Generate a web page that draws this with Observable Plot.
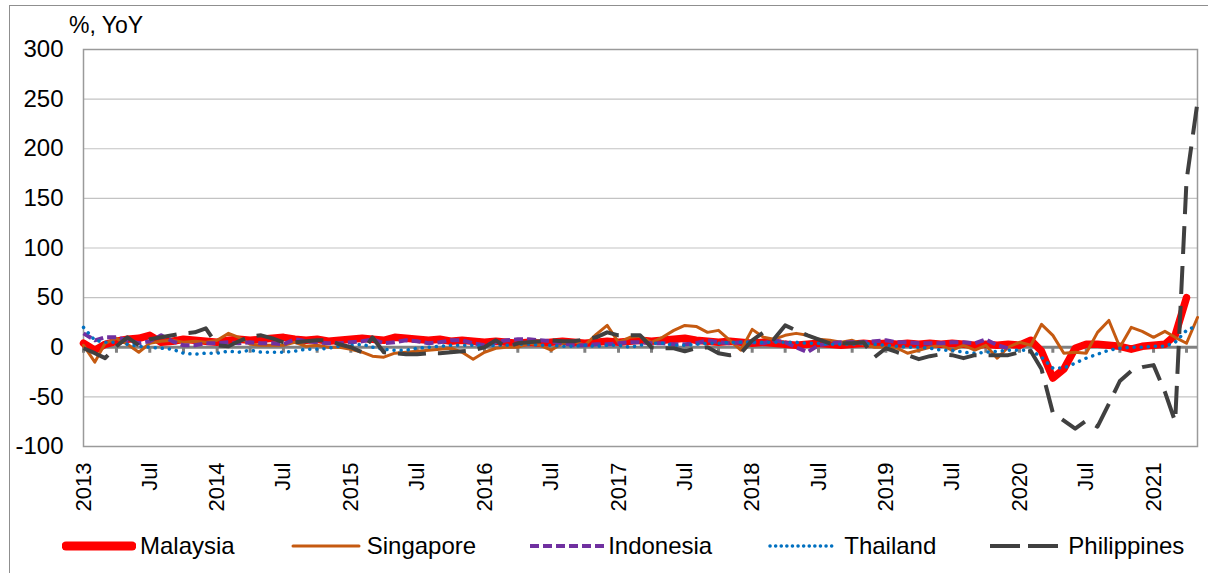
<!DOCTYPE html>
<html>
<head>
<meta charset="utf-8">
<script src="https://cdn.jsdelivr.net/npm/d3@7"></script>
<script src="https://cdn.jsdelivr.net/npm/@observablehq/plot@0.6"></script>
<style>
  html, body { margin: 0; padding: 0; background: #fff; }
  body { font-family: "Liberation Sans", Arial, sans-serif; color: #000; }
  #wrap { position: relative; width: 1208px; height: 573px; overflow: hidden; }
  #border { position: absolute; left: 9px; top: 5px; width: 1400px; height: 800px;
            border-left: 1.5px solid #8f8f8f; border-top: 1.5px solid #8f8f8f; pointer-events: none; }
  #title { height: 36px; box-sizing: border-box; padding-top: 13.5px; padding-left: 69px;
           font-size: 23px; line-height: 23px; white-space: nowrap; }
  #chart svg { display: block; }
  #legend { position: relative; top: -7px; height: 43px; box-sizing: border-box; padding-top: 3px; padding-left: 62px;
            display: flex; align-items: center; font-size: 24px; line-height: 24px; }
  .item { display: flex; align-items: center; margin-right: 54px; }
  .item svg { display: block; margin-right: 4px; }
</style>
</head>
<body>
<div id="wrap">
  <div id="border"></div>
  <div id="title">%, YoY</div>
  <div id="chart"></div>
  <div id="legend"></div>
</div>
<script>
// Monthly observations, Jan 2013 onward
const malaysia = [
  4, -3, 3, 6, 8, 9, 12, 5, 6, 8, 7, 6,
  5, 7, 8, 7, 8, 9, 10, 8, 7, 8, 6, 7,
  8, 9, 8, 7, 10, 9, 8, 7, 8, 6, 7, 6,
  5, 6, 5, 4, 5, 4, 5, 6, 5, 4, 5, 6,
  5, 6, 7, 6, 7, 8, 9, 7, 6, 5, 6, 5,
  4, 5, 4, 3, 2, 3, 4, 3, 2, 3, 4, 3,
  4, 3, 4, 3, 4, 3, 4, 3, 2, 3, 2, 3,
  2, 7, -4, -31, -22, -1, 3, 3, 2, 1, -2, 1,
  2, 3, 12, 50
];
const singapore = [
  2, -15, 4, 9, 3, -5, 4, 6, 7, 5, 6, 5,
  7, 14, 10, 3, 2, 2, 2, 5, 1, 2, 0, 0,
  -2, -5, -9, -10, -6, -5, -4, -3, -2, -1, -5, -12,
  -5, -1, 0, 0, 4, 2, -3, 4, 6, 2, 13, 22,
  5, 10, 11, 5, 10, 17, 22, 21, 15, 17, 7, -3,
  18, 10, 8, 12, 14, 12, 8, 7, 5, 7, 3, 0,
  0, -1, -6, -3, 0, 2, -3, 2, -3, 2, -11, 0,
  5, 2, 23, 12, -6, -5, -6, 15, 27, 0, 20, 16,
  10, 16, 10, 4, 30
];
const indonesia = [
  14, 7, 10, 10, 7, 4, 6, 12, 6, 2, 2, 4,
  4, 5, 4, 5, 4, 4, 3, 8, 6, 5, 4, 4,
  5, 6, 8, 4, 5, 7, 6, 4, 5, 7, 7, 4,
  2, 5, 7, 8, 8, 7, 6, 4, 2, 2, 3, 3,
  4, 5, 5, 4, 4, 3, 3, 4, 7, 5, 4, 5,
  5, 4, 7, 5, 0, -5, 2, 4, 5, 5, 5, 6,
  7, 5, 5, 4, 4, 4, 5, 5, 4, 8, 2, -1
];
const thailand = [
  20, 7, 5, 5, 3, 1, 0, -1, -2, -6, -7, -6,
  -6, -4, -5, -3, -5, -5, -5, -4, -2, -2, -1, 1,
  2, 3, 0, -2, -3, -3, -1, 0, 1, 2, 2, 2,
  1, 2, 2, 3, 3, 2, 2, 1, 1, 2, 1, 2,
  2, 0, 2, 4, 4, 2, 2, 3, 4, 4, 5, 5,
  5, 5, 5, 5, 5, 4, 4, 3, 3, 3, 4, 3,
  2, 1, 0, 0, -1, -3, -3, -5, -6, -5, -4, -3,
  -3, -3, -10, -21, -21, -16, -11, -7, -3, -1, 0, 0,
  1, 1, 5, 17, 22
];
const philippines = [
  -1, -6, -11, 1, 10, 2, 8, 10, 12, 14, 15, 19,
  2, 1, 6, 11, 12, 9, 5, 5, 6, 7, 7, 3,
  0, -5, 10, -5, -6, -7, -7, -6, -6, -5, -4, -3,
  0, 7, 0, 4, 5, 6, 7, 6, 6, 8, 10, 15,
  12, 12, 12, 0, -1, -1, -4, -1, 0, -6, -8, -6,
  7, 15, 8, 22, 17, 12, 8, 4, 4, 4, 5, -10,
  -1, -5, -8, -12, -9, -7, -8, -11, -8, -8, -8, -8,
  -5, -4, -22, -66, -74, -82, -74, -80, -57, -34, -24, -20,
  -18, -45, -75, 168, 247
];

const yTicks = [-100, -50, 0, 50, 100, 150, 200, 250, 300];
const months = d3.utcMonth.range(new Date(Date.UTC(2013, 0, 1)), new Date(Date.UTC(2021, 5, 1)));
const halfYearTicks = months.filter(d => d.getUTCMonth() % 6 === 0);
const quarterTicks = months.filter(d => d.getUTCMonth() % 3 === 0);

const series = [
  {name: "Malaysia",    values: malaysia,    stroke: "#ff0000", width: 7.5, dash: null,     cap: "round"},
  {name: "Singapore",   values: singapore,   stroke: "#c55a11", width: 3,   dash: null,     cap: "round"},
  {name: "Indonesia",   values: indonesia,   stroke: "#7030a0", width: 4,   dash: "9 4",    cap: "butt"},
  {name: "Thailand",    values: thailand,    stroke: "#0070c0", width: 3.5, dash: "0.1 7",  cap: "round"},
  {name: "Philippines", values: philippines, stroke: "#404040", width: 4,   dash: "28 12",  cap: "butt"}
];

const lines = series.map(s => {
  const rows = s.values.map((v, i) => ({date: months[i], value: v})).filter(r => r.value != null);
  return Plot.line(rows, {
    x: "date", y: "value", stroke: s.stroke, strokeWidth: s.width,
    strokeDasharray: s.dash, strokeLinecap: s.cap, strokeLinejoin: "round"
  });
});

const chart = Plot.plot({
  width: 1208,
  height: 494,
  marginLeft: 83,
  marginRight: 11,
  marginTop: 13,
  marginBottom: 84,
  x: {type: "utc", domain: [months[0], months[months.length - 1]]},
  y: {domain: [-100, 300]},
  style: {fontFamily: "'Liberation Sans', Arial, sans-serif", fontSize: "22px", color: "#000", background: "transparent"},
  marks: [
    Plot.ruleY(yTicks, {stroke: "#c3c3c3", strokeWidth: 1.2}),
    Plot.frame({stroke: "#9a9a9a", strokeWidth: 1.5}),
    Plot.ruleY([0], {stroke: "#808080", strokeWidth: 3}),
    Plot.ruleX(quarterTicks, {x: d => d, y1: 0, y2: 0, insetBottom: -6, stroke: "#808080", strokeWidth: 3}),
    ...lines,
    Plot.axisY({ticks: yTicks, tickSize: 0, tickPadding: 20, tickFormat: d => String(d), fontSize: 24, label: null}),
    Plot.axisX({
      ticks: halfYearTicks, tickSize: 0, tickPadding: 16, tickRotate: -90, fontSize: 22, label: null,
      tickFormat: d => d.getUTCMonth() === 0 ? String(d.getUTCFullYear()) : "Jul"
    })
  ]
});
document.getElementById("chart").appendChild(chart);

// Legend
const legend = d3.select("#legend");
series.forEach(s => {
  const item = legend.append("div").attr("class", "item");
  const sw = item.append("svg").attr("width", 74).attr("height", 12);
  sw.append("line")
    .attr("x1", s.cap === "round" ? 4 : 0).attr("x2", s.cap === "round" ? 70 : 74)
    .attr("y1", 6).attr("y2", 6)
    .attr("stroke", s.stroke).attr("stroke-width", s.name === "Malaysia" ? 9 : s.width)
    .attr("stroke-linecap", s.cap)
    .attr("stroke-dasharray", s.name === "Thailand" ? "0.1 5.5" : (s.name === "Philippines" ? "30 8" : s.dash));
  item.append("span").text(s.name);
});
</script>
</body>
</html>
